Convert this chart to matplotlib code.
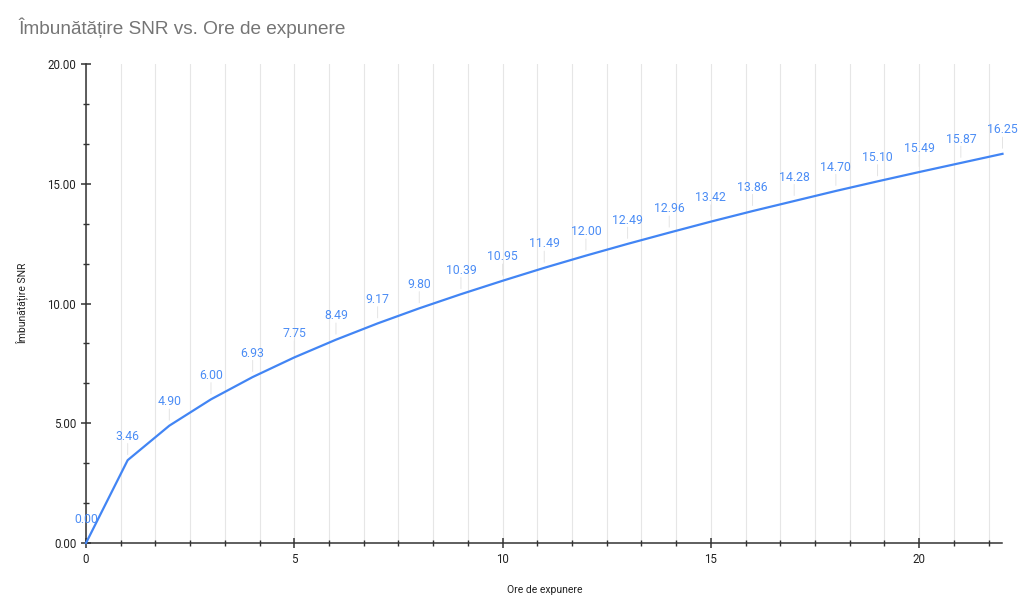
import matplotlib
matplotlib.use("Agg")
import matplotlib.pyplot as plt
from matplotlib.ticker import MultipleLocator, FormatStrFormatter

BLUE = "#4285F4"
LABEL_BLUE = "#4C8DF5"
GRID = "#E6E6E6"
AXIS = "#333333"

hours = list(range(0, 23))
snr_gain = [0.00, 3.46, 4.90, 6.00, 6.93, 7.75, 8.49, 9.17, 9.80, 10.39, 10.95, 11.49,
            12.00, 12.49, 12.96, 13.42, 13.86, 14.28, 14.70, 15.10, 15.49, 15.87, 16.25]

plt.rcParams["font.family"] = ["Roboto", "DejaVu Sans"]

fig = plt.figure(figsize=(10.24, 6.12), dpi=100)
ax = fig.add_axes([0.084, 0.1127, 0.895, 0.7827])

ax.set_xlim(0, 22)
ax.set_ylim(0, 20)

ax.xaxis.set_major_locator(MultipleLocator(5))
ax.xaxis.set_minor_locator(MultipleLocator(5 / 6))
ax.yaxis.set_major_locator(MultipleLocator(5))
ax.yaxis.set_minor_locator(MultipleLocator(5 / 3))
ax.yaxis.set_major_formatter(FormatStrFormatter("%.2f"))

ax.grid(True, axis="x", which="both", color=GRID, lw=0.8, zorder=0)
ax.set_axisbelow(True)

ax.plot(hours, snr_gain, color=BLUE, lw=1.6, zorder=3, clip_on=False)

for x, y in zip(hours, snr_gain):
    ax.annotate("", xy=(x, y), xycoords="data", xytext=(0, 12), textcoords="offset points",
                arrowprops=dict(arrowstyle="-", color="#E4E4E4", lw=0.7, shrinkA=0, shrinkB=4),
                zorder=2)
    ax.annotate(f"{y:.2f}", (x, y), xytext=(0, 12.5), textcoords="offset points",
                ha="center", va="bottom", color=LABEL_BLUE, fontsize=8.8, zorder=4)

for side in ["top", "right"]:
    ax.spines[side].set_visible(False)
for side in ["left", "bottom"]:
    ax.spines[side].set_color(AXIS)
    ax.spines[side].set_linewidth(1.1)

ax.tick_params(axis="both", which="major", length=7, width=1.1, color=AXIS,
               labelsize=8.3, labelcolor="#222222", direction="inout")
ax.tick_params(axis="both", which="minor", length=4, width=1.0, color=AXIS, direction="inout")

ax.set_xlabel("Ore de expunere", fontsize=7.5, color="#222222", labelpad=14)
ax.set_ylabel("Îmbunătățire SNR", fontsize=7.5, color="#222222", labelpad=14)

fig.text(0.0176, 0.955, "Îmbunătățire SNR vs. Ore de expunere", fontsize=13.7,
         color="#757575", family=["Liberation Sans", "DejaVu Sans"], va="center")

fig.savefig("out.png", dpi=100, facecolor="white")
